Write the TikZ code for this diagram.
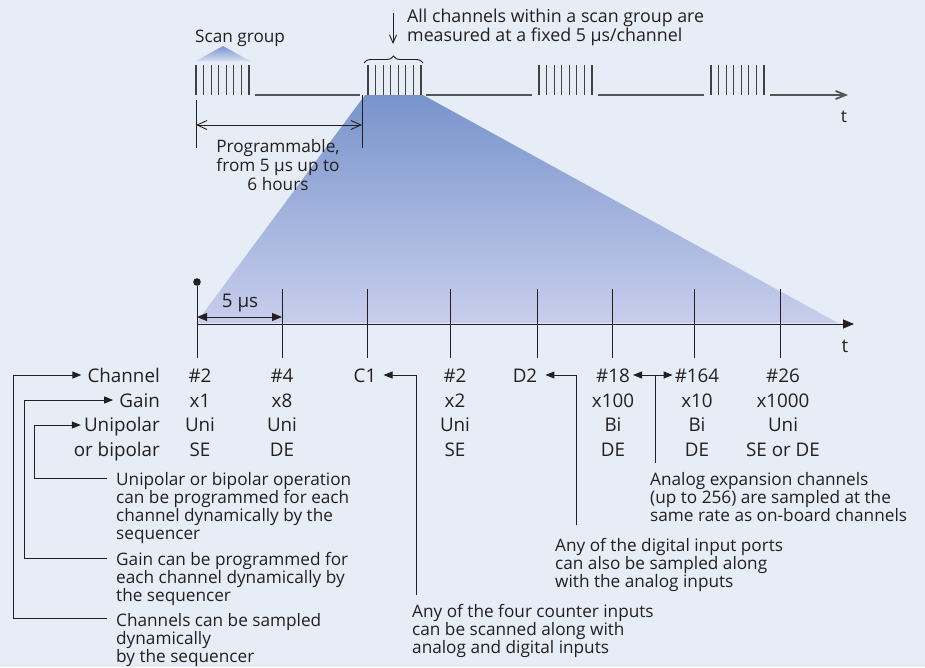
\documentclass[tikz,border=0pt]{standalone}
\usepackage{fontspec}
\setmainfont{Open Sans}
\usetikzlibrary{arrows.meta,decorations.pathreplacing,calc}
\definecolor{bg}{RGB}{230,237,246}
\definecolor{ink}{RGB}{35,31,32}
\definecolor{tl}{RGB}{85,85,85}
\definecolor{shtop}{RGB}{120,148,204}
\definecolor{shbot}{RGB}{200,206,236}
\begin{document}
\begin{tikzpicture}[x=1pt,y=-1pt,
  lbl/.style={font=\fontsize{18.8}{20}\selectfont, text=ink, inner sep=0pt, anchor=base},
  rowlbl/.style={lbl, anchor=base east},
  note/.style={font=\fontsize{17.2}{18.3}\selectfont, text=ink, inner sep=0pt, align=left, anchor=base west},
  conn/.style={draw=ink, line width=0.9pt},
  ftip/.style={-{Triangle[length=9pt,width=7pt]}},
  tick/.style={draw=ink!85, line width=1.2pt},
  tline/.style={draw=tl, line width=1.8pt},
  btick/.style={draw=ink, line width=0.9pt}]
\useasboundingbox (0,0) rectangle (925,667);
\fill[bg] (0,0) rectangle (925,667);
% zoom shading
\shade[top color=shtop, bottom color=shbot] (365,95) -- (423,95) -- (838,323) -- (196,323) -- cycle;
\shade[top color=shtop, bottom color=shbot!50!bg] (223,46) -- (250,61) -- (196,61) -- cycle;
% top timeline
\foreach \g in {196,368,539,711}{
  \foreach \k in {0,...,7}{ \draw[tick] ({\g+\k*7.57},65) -- ({\g+\k*7.57},95); }
}
\coordinate (s1a) at (255,95); \coordinate (s1b) at (360,95);
\coordinate (s2a) at (426,95); \coordinate (s2b) at (532,95);
\coordinate (s3a) at (598,95); \coordinate (s3b) at (704,95);
\coordinate (s4a) at (770,95); \coordinate (s4b) at (848,95);
\draw[tline] (s1a) -- (s1b);
\draw[tline] (s2a) -- (s2b);
\draw[tline] (s3a) -- (s3b);
\draw[tline, -{Straight Barb[length=10pt,width=8pt]}] (s4a) -- (s4b);
\node[lbl, font=\fontsize{17.5}{20}\selectfont] (ttop) at (844,122) {t};
\node[note] (scan) at (195,42) {Scan group};
% brace and note
\draw[draw=ink, line width=0.9pt, decorate, decoration={brace, amplitude=7pt}] (364,63) -- (423,63);
\node[note, font=\fontsize{17.8}{17.7}\selectfont] (allch) at (407,41.7) {All channels within a scan group are\\measured at a fixed 5 µs/channel};
\coordinate (dnA) at (393,13); \coordinate (dnB) at (393,44);
\draw[conn, -{Straight Barb[length=8pt,width=7pt]}] (dnA) -- (dnB);
% programmable interval
\coordinate (pL1) at (196,100); \coordinate (pL2) at (196,148);
\coordinate (pR1) at (362,95); \coordinate (pR2) at (362,148);
\draw[conn] (pL1) -- (pL2);
\draw[conn] (pR1) -- (pR2);
\coordinate (pa) at (196,125); \coordinate (pb) at (362,125);
\draw[conn, {Straight Barb[length=10pt,width=9pt]}-{Straight Barb[length=10pt,width=9pt]}] (pa) -- (pb);
\node[note, anchor=base, align=center, font=\fontsize{17.2}{19}\selectfont] (prog) at (278,190) {Programmable,\\from 5 µs up to\\6 hours};
% bottom axis
\coordinate (ax0) at (197,324); \coordinate (ax1) at (854,324);
\draw[conn, -{Triangle[length=11pt,width=9pt]}] (ax0) -- (ax1);
\node[lbl] (tbot) at (845,352) {t};
\foreach \x in {282,367,450,537,612,694,780}{ \draw[btick] (\x,289) -- (\x,358); }
\draw[btick] (197,286) -- (197,358);
\fill[ink] (197,282) circle (3.8);
\coordinate (d5a) at (197,317); \coordinate (d5b) at (282,317);
\draw[conn, {Triangle[length=10pt,width=8pt]}-{Triangle[length=10pt,width=8pt]}] (d5a) -- (d5b);
\node[lbl] (five) at (240,307) {5 µs};
% row labels
\node[rowlbl] (lCh) at (160,382) {Channel};
\node[rowlbl] (lGain) at (160,407) {Gain};
\node[rowlbl] (lUni) at (160,431) {Unipolar};
\node[rowlbl] (lBip) at (160,456) {or bipolar};
% columns
\node[lbl] (c1a) at (200,382) {\#2};  \node[lbl] (c1b) at (200,407) {x1};  \node[lbl] (c1c) at (200,431) {Uni}; \node[lbl] (c1d) at (200,456) {SE};
\node[lbl] (c2a) at (282,382) {\#4};  \node[lbl] (c2b) at (282,407) {x8};  \node[lbl] (c2c) at (282,431) {Uni}; \node[lbl] (c2d) at (282,456) {DE};
\node[lbl] (c3a) at (365,382) {C1};
\node[lbl] (c4a) at (455,382) {\#2};  \node[lbl] (c4b) at (455,407) {x2};  \node[lbl] (c4c) at (455,431) {Uni}; \node[lbl] (c4d) at (455,456) {SE};
\node[lbl] (c5a) at (525,382) {D2};
\node[lbl] (c6a) at (613,382) {\#18}; \node[lbl] (c6b) at (613,407) {x100}; \node[lbl] (c6c) at (613,431) {Bi}; \node[lbl] (c6d) at (613,456) {DE};
\node[lbl] (c7a) at (697,382) {\#164}; \node[lbl] (c7b) at (697,407) {x10}; \node[lbl] (c7c) at (697,431) {Bi}; \node[lbl] (c7d) at (697,456) {DE};
\node[lbl] (c8a) at (783,382) {\#26}; \node[lbl] (c8b) at (783,407) {x1000}; \node[lbl] (c8c) at (783,431) {Uni}; \node[lbl] (c8d) at (783,456) {SE or DE};
% annotations (base = last line)
\node[note] (aUni) at (116,539.9) {Unipolar or bipolar operation\\can be programmed for each\\channel dynamically by the\\sequencer};
\node[note] (aGain) at (116,601.6) {Gain can be programmed for\\each channel dynamically by\\the sequencer};
\node[note] (aCh) at (116,662.6) {Channels can be sampled\\dynamically\\by the sequencer};
\node[note] (aC1) at (412,653.6) {Any of the four counter inputs\\can be scanned along with\\analog and digital inputs};
\node[note] (aD2) at (555,587.6) {Any of the digital input ports\\can also be sampled along\\with the analog inputs};
\node[note] (aExp) at (650,521.6) {Analog expansion channels\\(up to 256) are sampled at the\\same rate as on-board channels};
% left connectors
\coordinate (eCh) at (107,618);  \coordinate (kCh) at (13,618);
\coordinate (eGain) at (107,558); \coordinate (kGain) at (24,558);
\coordinate (eUni) at (107,478); \coordinate (kUni) at (34,478);
\draw[conn, ftip] (eCh) -- (kCh) |- ($(lCh.base west)+(-6,-7)$);
\draw[conn, ftip] (eGain) -- (kGain) |- ($(lGain.base west)+(-6,-7)$);
\draw[conn, ftip] (eUni) -- (kUni) |- ($(lUni.base west)+(-3,-6)$);
% right connectors
\coordinate (kC1) at (416,595);
\draw[conn, ftip] (kC1) |- ($(c3a.base east)+(7,-7)$);
\coordinate (kD2) at (576,525);
\draw[conn, ftip] (kD2) |- ($(c5a.base east)+(8,-7)$);
\coordinate (kEx) at (655,463);
\coordinate (kExT) at (655,375);
\draw[conn, ftip] (kEx) |- ($(c6a.base east)+(3,-7)$);
\draw[conn, ftip] (kExT) -- ($(c7a.base west)+(-2,-7)$);
\end{tikzpicture}
\end{document}
